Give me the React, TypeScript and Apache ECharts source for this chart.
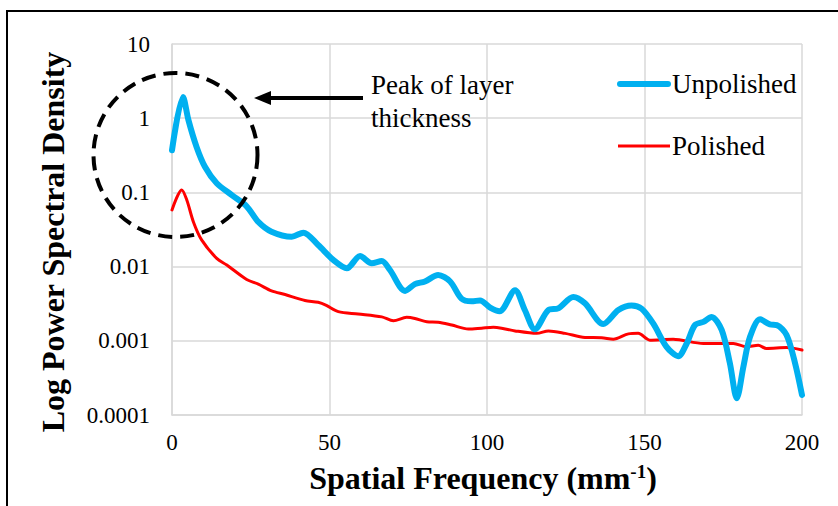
import React, { useEffect, useRef } from "react";
import * as echarts from "echarts";

const yTicks = [10, 1, 0.1, 0.01, 0.001, 0.0001];
const xTicks = [0, 50, 100, 150, 200];

const unpolishedFreq = [0, 3.5, 5.2, 7.8, 10.5, 14.2, 19, 23.7, 27.4, 31.6, 38, 41.7, 46.4, 51.2, 55.5, 59.7, 63.4, 66.6, 69.2, 74, 77.1, 80.3, 84.5, 88.3, 91.9, 95.1, 97.8, 101, 104, 108.9, 112, 115.2, 119.5, 122.6, 127.4, 131.1, 136.9, 141.7, 145.9, 149.1, 152.8, 157, 160.7, 163.4, 166, 168.7, 171.3, 174.5, 177.1, 179.3, 181.4, 183.5, 186.7, 189.8, 192, 195.1, 197.8, 200];
const unpolishedPSD = [0.37, 1.93, 0.95, 0.41, 0.22, 0.133, 0.092, 0.065, 0.04, 0.0295, 0.0253, 0.0287, 0.0195, 0.0123, 0.0095, 0.0139, 0.0111, 0.0119, 0.009, 0.0047, 0.0058, 0.0063, 0.0077, 0.0063, 0.0037, 0.0034, 0.0035, 0.0028, 0.0025, 0.0048, 0.0026, 0.00143, 0.0026, 0.00274, 0.0039, 0.0032, 0.00168, 0.0026, 0.003, 0.0027, 0.0017, 0.00083, 0.00062, 0.00092, 0.00163, 0.0018, 0.0021, 0.0014, 0.0005, 0.000168, 0.00045, 0.00113, 0.00195, 0.00166, 0.00163, 0.0012, 0.0005, 0.000186];

const polishedFreq = [0, 3.1, 4.7, 6.8, 9.4, 14.2, 17.4, 23.7, 27.4, 31.6, 35.9, 42.2, 46.4, 49, 52.8, 59.1, 66.6, 70.3, 74.5, 77.1, 80.9, 84.5, 88.8, 94.1, 98.3, 102, 104.6, 108.9, 115.8, 119.5, 124.8, 131.1, 136.4, 140.1, 144.9, 148, 151.7, 159.1, 168.7, 178.2, 182.4, 186.1, 188.7, 195.1, 200];
const polishedPSD = [0.058, 0.108, 0.079, 0.04, 0.0229, 0.0129, 0.0105, 0.0067, 0.0058, 0.0047, 0.0042, 0.0035, 0.0033, 0.003, 0.00247, 0.0023, 0.0021, 0.00186, 0.00207, 0.002, 0.0018, 0.00178, 0.00163, 0.00144, 0.00148, 0.00152, 0.00148, 0.00136, 0.00126, 0.00136, 0.00126, 0.00111, 0.0011, 0.00105, 0.00124, 0.00126, 0.00102, 0.00105, 0.00092, 0.00092, 0.00083, 0.00087, 0.00079, 0.00081, 0.00075];

const seriesNames = ["Unpolished", "Polished"];
const xTitle = "Spatial Frequency (mm";
const yTitle = "Log Power Spectral Density";
const annotation = "Peak of layer\nthickness";

const FONT = "'Liberation Serif', 'Times New Roman', serif";

// legend bar icons: invisible corner points fix the bounding box, the bar sets the thickness
const thickBar = "path://M0,0L0,0M54,30L54,30M3,12L51,12A3,3,0,0,1,51,18L3,18A3,3,0,0,1,3,12Z";
const thinBar = "path://M0,0L0,0M54,30L54,30M1,13.5L53,13.5L53,16.5L1,16.5Z";

export default function App() {
  const ref = useRef<HTMLDivElement>(null);
  useEffect(() => {
    if (!ref.current) return;
    const chart = echarts.init(ref.current, null, { renderer: "svg" });
    const pair = (xs: number[], ys: number[]) => xs.map((x, i) => [x, ys[i]]);
    chart.setOption({
      animation: false,
      backgroundColor: "#ffffff",
      grid: { left: 172, right: 36, top: 44, bottom: 91 },
      xAxis: {
        type: "value",
        min: xTicks[0],
        max: xTicks[xTicks.length - 1],
        interval: 50,
        axisLine: { show: true, lineStyle: { color: "#D9D9D9", width: 1.5 } },
        axisTick: { show: false },
        splitLine: { show: true, lineStyle: { color: "#D9D9D9", width: 1.5 } },
        axisLabel: { fontFamily: FONT, fontSize: 23, color: "#000", margin: 16 },
      },
      yAxis: {
        type: "log",
        logBase: 10,
        min: yTicks[yTicks.length - 1],
        max: yTicks[0],
        axisLine: { show: true, lineStyle: { color: "#D9D9D9", width: 1.5 } },
        axisTick: { show: false },
        splitLine: { show: true, lineStyle: { color: "#D9D9D9", width: 1.5 } },
        axisLabel: {
          fontFamily: FONT,
          fontSize: 23,
          color: "#000",
          margin: 22,
          formatter: (v: number) => String(Number(v.toPrecision(1))),
        },
      },
      legend: {
        orient: "vertical",
        left: 612,
        top: 64,
        itemWidth: 54,
        itemHeight: 30,
        itemGap: 32,
        data: [
          { name: seriesNames[0], icon: thickBar },
          { name: seriesNames[1], icon: thinBar },
        ],
        textStyle: { fontFamily: FONT, fontSize: 27, color: "#000", padding: [0, 0, 0, -4] },
      },
      series: [
        {
          name: seriesNames[0],
          type: "line",
          data: pair(unpolishedFreq, unpolishedPSD),
          smooth: 0.3,
          symbol: "none",
          lineStyle: { color: "#00B0F0", width: 6, cap: "round", join: "round" },
          itemStyle: { color: "#00B0F0" },
          z: 3,
        },
        {
          name: seriesNames[1],
          type: "line",
          data: pair(polishedFreq, polishedPSD),
          smooth: 0.3,
          symbol: "none",
          lineStyle: { color: "#FF0000", width: 3, cap: "round", join: "round" },
          itemStyle: { color: "#FF0000" },
          z: 2,
        },
      ],
      graphic: [
        {
          type: "rect",
          shape: { x: 7, y: 11, width: 900, height: 600 },
          style: { fill: "none", stroke: "#000", lineWidth: 2 },
          z: 10,
        },
        {
          type: "circle",
          shape: { cx: 175.5, cy: 155, r: 82 },
          style: { fill: "none", stroke: "#000", lineWidth: 4, lineDash: [14, 8] },
          z: 10,
        },
        {
          type: "line",
          shape: { x1: 363, y1: 98, x2: 266, y2: 98 },
          style: { stroke: "#000", lineWidth: 4 },
          z: 10,
        },
        {
          type: "polygon",
          shape: { points: [[254, 98], [271, 91], [271, 105]] },
          style: { fill: "#000" },
          z: 10,
        },
        {
          type: "text",
          x: 371,
          y: 68,
          style: {
            text: annotation,
            fontFamily: FONT,
            fontSize: 27,
            lineHeight: 33,
            fill: "#000",
            align: "left",
            verticalAlign: "top",
          },
          z: 10,
        },
        {
          type: "text",
          x: 483,
          y: 478,
          style: {
            text: xTitle + "{sup|-1}{b|)}",
            rich: {
              sup: { fontFamily: FONT, fontSize: 19, fontWeight: "bold", fill: "#000", verticalAlign: "top", padding: [0, 0, 14, 0] },
              b: { fontFamily: FONT, fontSize: 32, fontWeight: "bold", fill: "#000" },
            },
            fontFamily: FONT,
            fontSize: 32,
            fontWeight: "bold",
            fill: "#000",
            align: "center",
            verticalAlign: "middle",
          },
          z: 10,
        },
        {
          type: "text",
          x: 53,
          y: 242,
          rotation: Math.PI / 2,
          style: {
            text: yTitle,
            fontFamily: FONT,
            fontSize: 32,
            fontWeight: "bold",
            fill: "#000",
            align: "center",
            verticalAlign: "middle",
          },
          z: 10,
        },
      ],
    });
    return () => chart.dispose();
  }, []);
  return (
    <div
      ref={ref}
      style={{ position: "fixed", left: 0, top: 0, width: 838, height: 506 }}
    />
  );
}
